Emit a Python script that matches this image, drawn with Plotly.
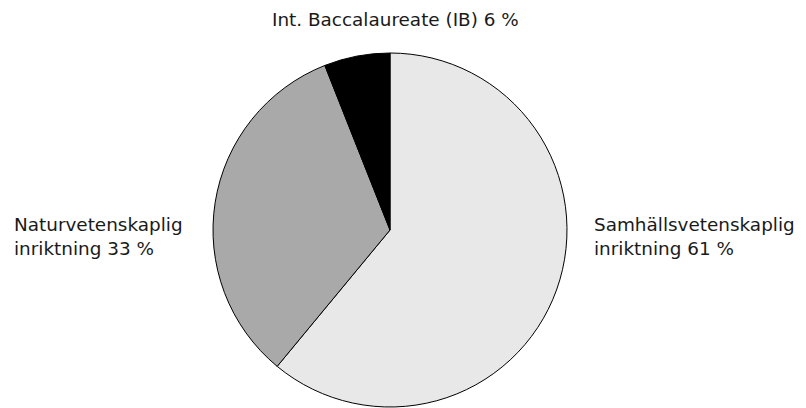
import plotly.graph_objects as go

labels = ["Samhällsvetenskaplig inriktning", "Naturvetenskaplig inriktning", "Int. Baccalaureate (IB)"]
values = [61, 33, 6]
colors = ["#e8e8e8", "#a9a9a9", "#000000"]
label_texts = ["Samhällsvetenskaplig<br>inriktning 61 %", "Naturvetenskaplig<br>inriktning 33 %", "Int. Baccalaureate (IB) 6 %"]

W, H = 806, 408
cx, cy, r = 390, 230, 177

fig = go.Figure(go.Pie(
    labels=labels, values=values, sort=False, direction="clockwise", rotation=0,
    marker=dict(colors=colors, line=dict(color="#000000", width=1)),
    textinfo="none", hoverinfo="label+percent", showlegend=False,
    domain=dict(x=[(cx - r) / W, (cx + r) / W], y=[(H - cy - r) / H, (H - cy + r) / H]),
))

font = dict(family="DejaVu Sans, Liberation Sans, sans-serif", size=18.4, color="#1a1a1a")
positions = [
    dict(x=592 / W, y=1 - 236 / H, xanchor="left", yanchor="middle", align="left"),
    dict(x=12 / W, y=1 - 236 / H, xanchor="left", yanchor="middle", align="left"),
    dict(x=395 / W, y=1 - 19 / H, xanchor="center", yanchor="middle", align="center"),
]
ann = []
for t, p in zip(label_texts, positions):
    ann.append(dict(text=t, xref="paper", yref="paper", showarrow=False, font=font, **p))

fig.update_layout(
    width=W, height=H, margin=dict(l=0, r=0, t=0, b=0),
    paper_bgcolor="white", plot_bgcolor="white", annotations=ann,
)
fig.write_html("out.html", config={"displayModeBar": False},
               post_script="document.body.style.margin='0px';")
